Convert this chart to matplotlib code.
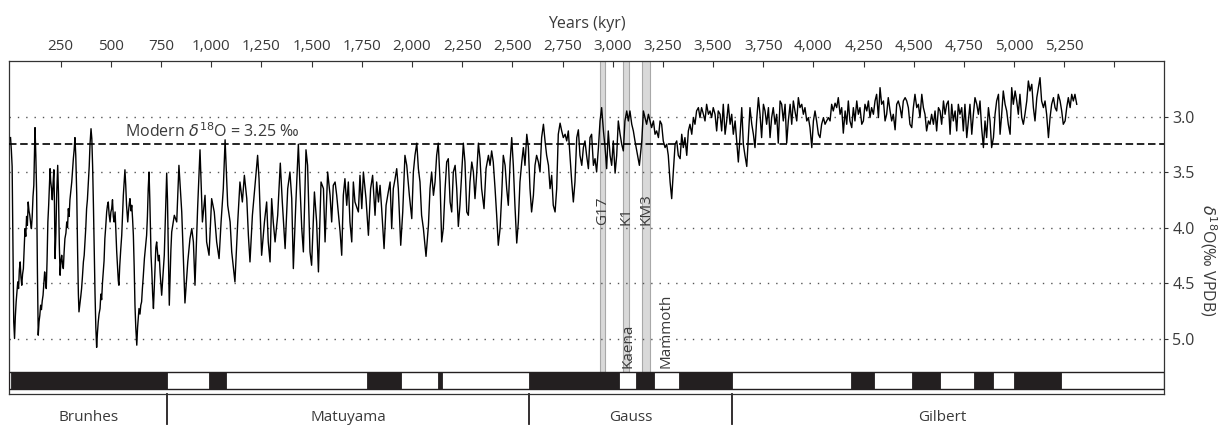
import matplotlib.pyplot as plt
from matplotlib.ticker import FuncFormatter
import matplotlib.transforms as mtransforms
import numpy as np

plt.rcParams['font.family'] = ['Open Sans', 'DejaVu Sans']

# benthic d18O stack: age (kyr), d18O (permil VPDB)
age_brunhes = [0, 4, 8, 12, 16, 20, 24, 28, 32, 36, 40, 44, 48, 52, 56, 60, 64, 68, 72, 76,
               80, 84, 88, 92, 96, 100, 104, 108, 112, 116, 120, 122, 126, 130, 134, 138, 142, 146, 150, 154,
               158, 162, 166, 170, 174, 178, 182, 186, 190, 194, 197, 200, 204, 208, 212, 216, 219, 222, 226, 230,
               235, 239, 243, 247, 251, 255, 259, 263, 267, 271, 276, 280, 284, 288, 292, 296, 300, 305, 309, 313,
               317, 321, 325, 330, 334, 338, 341, 345, 350, 354, 358, 363, 367, 371, 375, 379, 383, 388, 392, 396,
               401, 405, 409, 413, 417, 421, 425, 429, 433, 437, 441, 446, 450, 454, 458, 462, 466, 470, 474, 479,
               483, 487, 491, 496, 500, 504, 508, 512, 516, 521, 525, 529, 533, 537, 540, 544, 549, 554, 558, 562,
               566, 570, 574, 578, 584, 588, 592, 595, 600, 604, 608, 612, 616, 620, 624, 629, 633, 637, 640, 645,
               649, 653, 657, 661, 667, 671, 675, 678, 682, 686, 690, 694, 697, 700, 704, 708, 712, 716, 720, 724,
               728, 732, 736, 741, 745, 749, 753, 757, 761, 766, 770, 774, 778, 782, 786, 791, 795, 799, 803]
d18o_brunhes = [3.19, 3.30, 3.45, 4.20, 4.85, 5.00, 4.80, 4.67, 4.58, 4.49, 4.55, 4.38, 4.31, 4.45, 4.52, 4.42, 4.37, 4.20, 4.01, 4.08,
                3.90, 3.98, 3.77, 3.85, 3.89, 3.96, 4.01, 3.90, 3.72, 3.62, 3.25, 3.10, 3.35, 3.68, 4.40, 4.97, 4.85, 4.79, 4.70, 4.74,
                4.66, 4.61, 4.50, 4.40, 4.47, 4.55, 4.30, 3.95, 3.80, 3.60, 3.47, 3.58, 3.65, 3.75, 3.60, 3.48, 3.80, 4.28, 4.05, 3.70,
                3.44, 3.70, 4.15, 4.43, 4.30, 4.25, 4.33, 4.37, 4.22, 4.10, 4.05, 3.95, 4.00, 3.83, 3.90, 3.75, 3.68, 3.59, 3.48, 3.38,
                3.30, 3.19, 3.35, 3.71, 4.20, 4.60, 4.76, 4.70, 4.62, 4.55, 4.45, 4.31, 4.25, 4.13, 4.00, 3.83, 3.75, 3.59, 3.45, 3.25,
                3.11, 3.20, 3.45, 3.80, 4.20, 4.60, 4.90, 5.08, 4.95, 4.85, 4.78, 4.73, 4.60, 4.65, 4.50, 4.40, 4.30, 4.10, 4.00, 3.86,
                3.80, 3.77, 3.88, 3.95, 3.86, 3.83, 3.75, 3.90, 3.95, 3.86, 4.05, 4.22, 4.35, 4.48, 4.52, 4.35, 4.20, 4.07, 3.90, 3.71,
                3.60, 3.48, 3.62, 3.80, 3.95, 3.85, 3.78, 3.74, 3.85, 3.80, 3.92, 4.07, 4.35, 4.70, 4.90, 5.06, 4.90, 4.80, 4.73, 4.78,
                4.70, 4.67, 4.55, 4.45, 4.28, 4.20, 4.12, 4.07, 3.90, 3.65, 3.50, 3.75, 4.00, 4.25, 4.40, 4.60, 4.73, 4.55, 4.35, 4.18,
                4.13, 4.22, 4.30, 4.25, 4.40, 4.50, 4.61, 4.50, 4.38, 4.25, 4.00, 3.75, 3.51, 3.75, 4.20, 4.70, 4.45, 4.20, 4.04]

age_matuyama = [816, 828, 839, 853, 869,
                883, 894, 903, 911, 919, 932, 944, 956, 969, 977, 989, 1002, 1015, 1027, 1039, 1049, 1060, 1069, 1082, 1094,
                1102, 1118, 1132, 1143, 1155, 1165, 1177, 1185, 1193, 1205, 1218, 1231, 1238, 1251, 1265, 1276, 1284, 1293, 1301, 1309,
                1318, 1331, 1344, 1354, 1368, 1381, 1392, 1401, 1409, 1421, 1434, 1442, 1451, 1459, 1472, 1480, 1492, 1500, 1514, 1525,
                1534, 1547, 1559, 1567, 1580, 1592, 1600, 1608, 1617, 1625, 1642, 1650, 1658, 1666, 1675, 1683, 1691, 1700, 1708, 1716,
                1733, 1741]
d18o_matuyama = [3.89, 3.95, 3.44, 3.86, 4.68,
                 4.31, 4.10, 4.01, 4.13, 4.52, 3.83, 3.30, 3.95, 3.71, 4.13, 4.25, 3.74, 3.86, 4.13, 4.28, 3.95, 3.65, 3.21, 3.80, 3.95,
                 4.22, 4.49, 3.95, 3.59, 3.77, 3.53, 3.74, 4.07, 4.31, 3.89, 3.62, 3.35, 3.56, 4.25, 3.95, 3.77, 4.13, 4.31, 3.74, 3.95,
                 4.13, 3.89, 3.42, 3.77, 4.19, 3.65, 3.50, 3.74, 4.37, 3.80, 3.25, 3.62, 4.01, 4.22, 3.30, 3.44, 4.22, 4.34, 3.68, 3.95,
                 4.40, 3.59, 3.65, 4.13, 3.50, 3.71, 3.95, 3.62, 3.59, 3.71, 4.04, 4.25, 3.71, 3.56, 3.80, 3.59, 3.95, 4.13, 3.59, 3.77,
                 3.86, 3.53]

age_late = [1750, 1758, 1771, 1783, 1794, 1804, 1816, 1824, 1833, 1841, 1849, 1861, 1871, 1882, 1891, 1899, 1907, 1916, 1924, 1932,
            1944, 1954, 1965, 1974, 1987, 1999, 2007, 2015, 2024, 2032, 2040, 2048, 2057, 2070, 2082, 2090, 2098, 2107, 2115, 2123,
            2131, 2140, 2148, 2156, 2165, 2173, 2181, 2190, 2198, 2206, 2215, 2223, 2231, 2239, 2248, 2256, 2264, 2273, 2281, 2289,
            2298, 2306, 2314, 2322, 2331, 2339, 2347, 2359, 2369, 2381, 2389, 2397, 2405, 2414, 2422, 2430, 2439, 2447, 2455, 2464,
            2472, 2480, 2489, 2497, 2505, 2513, 2522, 2530, 2538, 2547, 2555, 2563, 2572, 2580, 2588, 2596, 2605, 2613, 2621, 2630,
            2638, 2646, 2655, 2663, 2671, 2680, 2688, 2696, 2704, 2713, 2721, 2729, 2738, 2746, 2754, 2763, 2771, 2779, 2787, 2796,
            2804, 2812, 2821, 2829, 2837, 2846, 2854, 2862, 2870, 2879, 2887, 2895, 2904, 2912, 2920, 2929, 2937, 2945, 2954, 2962,
            2970, 2978, 2987, 2995, 3003, 3012, 3020, 3028, 3037, 3045, 3053, 3061, 3070, 3078, 3086, 3095, 3103, 3111, 3120, 3133,
            3145, 3153, 3161, 3169, 3178, 3186, 3194, 3203, 3211, 3219, 3228, 3236, 3244, 3252, 3261, 3269, 3277, 3286, 3294, 3302,
            3311, 3319, 3327, 3336, 3344, 3352, 3360, 3369, 3377, 3385, 3394, 3402, 3410, 3418, 3427, 3435, 3443, 3452, 3460, 3468,
            3477, 3485, 3493, 3501, 3510, 3518, 3526]
d18o_late = [3.83, 3.50, 3.74, 4.07, 3.65, 3.53, 3.89, 3.59, 3.77, 3.62, 3.83, 4.19, 3.80, 3.68, 3.59, 4.01, 3.65, 3.56, 3.47, 3.65,
             4.16, 3.86, 3.35, 3.44, 3.71, 3.92, 3.50, 3.35, 3.24, 3.47, 3.59, 3.89, 4.01, 4.26, 3.98, 3.65, 3.50, 3.71, 3.59, 3.35,
             3.24, 3.59, 4.13, 4.01, 3.65, 3.41, 3.38, 3.77, 3.86, 3.50, 3.44, 3.65, 3.99, 3.80, 3.50, 3.24, 3.41, 3.86, 3.89, 3.59,
             3.41, 3.50, 3.74, 3.53, 3.24, 3.38, 3.65, 3.83, 3.47, 3.35, 3.44, 3.31, 3.41, 3.65, 3.89, 4.16, 4.01, 3.71, 3.35, 3.44,
             3.65, 3.80, 3.41, 3.19, 3.44, 3.80, 4.14, 3.95, 3.59, 3.41, 3.28, 3.44, 3.16, 3.28, 3.65, 3.86, 3.71, 3.44, 3.35, 3.41,
             3.50, 3.19, 3.07, 3.22, 3.35, 3.44, 3.65, 3.53, 3.80, 3.86, 3.65, 3.16, 3.06, 3.13, 3.19, 3.16, 3.22, 3.13, 3.35, 3.59,
             3.77, 3.59, 3.19, 3.12, 3.35, 3.44, 3.28, 3.22, 3.35, 3.47, 3.19, 3.16, 3.44, 3.38, 3.50, 3.28, 3.04, 2.92, 3.13, 3.28,
             3.47, 3.13, 3.35, 3.44, 3.22, 3.51, 3.35, 3.04, 3.16, 3.25, 3.31, 3.04, 2.95, 3.04, 2.95, 3.07, 3.13, 3.22, 3.31, 3.44,
             3.22, 2.95, 3.01, 3.07, 2.98, 3.04, 3.10, 3.04, 3.16, 3.13, 3.19, 3.04, 3.07, 3.22, 3.28, 3.25, 3.35, 3.59, 3.74, 3.50,
             3.25, 3.22, 3.35, 3.38, 3.16, 3.28, 3.19, 3.35, 3.13, 3.07, 3.16, 3.01, 3.07, 2.95, 2.92, 3.01, 2.92, 2.98, 3.04, 2.89,
             2.98, 2.95, 3.01, 2.92, 2.98, 3.13, 2.95]

age_plio = [3535, 3543, 3551, 3560, 3568, 3576, 3585, 3593, 3601, 3610, 3618, 3626, 3634, 3643, 3651, 3659, 3668, 3676, 3684, 3693,
            3701, 3709, 3717, 3726, 3734, 3742, 3751, 3759, 3767, 3776, 3784, 3792, 3800, 3809, 3817, 3825, 3834, 3842, 3850, 3859,
            3867, 3875, 3884, 3892, 3900, 3908, 3917, 3925, 3933, 3942, 3950, 3958, 3967, 3975, 3983, 3992, 4000, 4008, 4016, 4025,
            4033, 4041, 4050, 4058, 4066, 4075, 4083, 4091, 4099, 4108, 4116, 4124, 4133, 4141, 4149, 4158, 4166, 4174, 4182, 4191,
            4199, 4207, 4216, 4224, 4232, 4241, 4249, 4257, 4266, 4274, 4282, 4290, 4299, 4307, 4315, 4324, 4332, 4340, 4349, 4357,
            4365, 4373, 4382, 4390, 4398, 4407, 4415, 4423, 4432, 4440, 4448, 4457, 4465, 4473, 4481, 4490, 4498, 4506, 4515, 4523,
            4531, 4540, 4548, 4556, 4564, 4573, 4581, 4589, 4598, 4606, 4614, 4623, 4631, 4639, 4648, 4656, 4664, 4672, 4681, 4689,
            4697, 4706, 4714, 4722, 4730, 4739, 4747, 4755, 4764, 4772, 4780, 4789, 4797, 4805, 4814, 4822, 4830, 4838, 4847, 4855,
            4863, 4872, 4880, 4888, 4897, 4905, 4913, 4922, 4930, 4938, 4946, 4955, 4963, 4971, 4980, 4988, 4996, 5005, 5013, 5021,
            5029, 5038, 5046, 5054, 5063, 5071, 5079, 5088, 5096, 5104, 5113, 5121, 5129, 5137, 5146, 5154, 5162, 5171, 5179, 5187,
            5196, 5204, 5212, 5220, 5229, 5237, 5245, 5254, 5262, 5270, 5279, 5287, 5295, 5303, 5312]
d18o_plio = [2.98, 3.13, 2.89, 3.16, 3.04, 2.89, 3.07, 2.98, 3.16, 3.04, 3.22, 3.41, 3.19, 2.92, 3.25, 3.35, 3.45, 3.19, 2.92, 3.07,
             3.16, 3.28, 3.04, 2.83, 2.98, 3.19, 2.89, 2.95, 3.07, 2.92, 3.19, 3.01, 2.92, 3.07, 2.98, 3.24, 2.86, 2.89, 3.04, 2.89,
             3.24, 3.04, 2.89, 3.07, 2.86, 2.95, 3.04, 2.83, 2.92, 2.89, 2.98, 2.92, 3.04, 3.01, 3.10, 3.28, 3.04, 2.95, 3.04, 3.16,
             3.19, 3.07, 3.01, 3.07, 3.04, 3.01, 3.04, 2.89, 2.95, 2.88, 2.92, 2.83, 2.98, 2.92, 3.15, 2.95, 3.07, 2.86, 3.04, 3.10,
             2.92, 3.04, 2.86, 2.98, 2.92, 3.07, 3.04, 2.89, 2.95, 2.86, 3.01, 2.92, 2.98, 2.86, 2.80, 3.01, 2.74, 2.89, 2.86, 3.04,
             2.98, 2.83, 2.95, 3.04, 2.98, 3.12, 2.89, 2.86, 2.92, 3.01, 2.86, 2.83, 2.86, 2.92, 3.07, 3.10, 2.92, 2.80, 2.92, 2.89,
             3.01, 2.80, 2.92, 2.98, 3.13, 3.04, 3.07, 2.98, 3.07, 2.95, 3.13, 2.92, 2.95, 3.07, 2.86, 2.98, 2.89, 2.86, 3.16, 2.89,
             3.04, 2.95, 3.13, 2.89, 2.98, 2.92, 3.13, 2.89, 3.19, 3.04, 2.89, 3.16, 2.98, 2.83, 2.89, 2.98, 2.86, 3.10, 3.28, 3.04,
             3.19, 2.92, 3.04, 3.28, 3.19, 2.98, 2.86, 2.80, 3.16, 2.98, 2.77, 2.89, 2.95, 3.07, 3.16, 2.74, 2.89, 2.77, 2.86, 2.98,
             2.80, 3.01, 3.07, 2.98, 2.86, 2.68, 2.77, 2.71, 2.92, 3.04, 2.83, 2.74, 2.65, 2.86, 2.92, 2.86, 2.98, 3.19, 3.01, 2.89,
             2.83, 2.92, 2.95, 2.80, 2.86, 2.95, 3.07, 3.04, 2.92, 2.83, 2.92, 2.80, 2.86, 2.80, 2.89]

# geomagnetic polarity: normal intervals (kyr)
normal_start = [0, 988, 1778, 2128, 2581, 3116, 3330, 4187, 4493, 4799, 4997]
normal_end = [781, 1072, 1945, 2148, 3032, 3207, 3596, 4300, 4631, 4896, 5235]

epochs = ['Brunhes', 'Matuyama', 'Gauss', 'Gilbert']
epoch_bounds = [781, 2581, 3596]
epoch_centres = [390, 1681, 3088, 4640]

mis_names = ['G17', 'K1', 'KM3']
mis_start = [2937, 3053, 3148]
mis_end = [2962, 3083, 3185]

subchrons = ['Kaena', 'Mammoth']
subchron_mid = [3074, 3268]

modern = 3.25
xmin, xmax = -6, 5747

txt = '#3a3a3a'

fig = plt.figure(figsize=(12.27, 4.26), dpi=100)
ax = fig.add_axes([0.0076, 0.0751, 0.9411, 0.7817])

age = np.array(age_brunhes + age_matuyama + age_late + age_plio)
d18o = np.array(d18o_brunhes + d18o_matuyama + d18o_late + d18o_plio)

bar_top, bar_bot = 0.067, 0.014

for name, s, e in zip(mis_names, mis_start, mis_end):
    ax.axvspan(s, e, ymin=bar_top, ymax=1, facecolor='#d9d9d9', edgecolor='#a8a8a8', lw=0.8, zorder=1)
    ax.text((s + e) / 2, 3.98, name, rotation=90, ha='center', va='bottom', fontsize=11, color=txt, zorder=4)

for v in [3.0, 3.5, 4.0, 4.5, 5.0]:
    ax.axhline(v, color='#555555', lw=1.0, ls=(0, (1, 5)), zorder=2)

ax.plot(age, d18o, color='black', lw=1.0, zorder=3)
ax.axhline(modern, color='black', lw=1.2, ls=(0, (4.5, 2.2)), zorder=4)
ax.text(570, 3.22, 'Modern $\\delta^{18}$O = 3.25 ‰', fontsize=11.5, color=txt, va='bottom', ha='left', zorder=5)

# polarity bar
trans = mtransforms.blended_transform_factory(ax.transData, ax.transAxes)
ax.add_patch(plt.Rectangle((xmin, bar_bot), xmax - xmin, bar_top - bar_bot, transform=trans,
                           facecolor='white', edgecolor='#231f20', lw=1.0, zorder=5))
for s, e in zip(normal_start, normal_end):
    ax.add_patch(plt.Rectangle((s, bar_bot), e - s, bar_top - bar_bot, transform=trans,
                               facecolor='#231f20', edgecolor='#231f20', lw=0.6, zorder=6))
for name, m in zip(subchrons, subchron_mid):
    ax.text(m, bar_top + 0.01, name, rotation=90, ha='center', va='bottom', fontsize=11,
            color=txt, transform=trans, zorder=6)

# epochs under the axes
for b in epoch_bounds:
    ax.plot([b, b], [0, -0.09], color='#231f20', lw=1.3, transform=trans, clip_on=False)
for name, c in zip(epochs, epoch_centres):
    ax.text(c, -0.072, name, ha='center', va='center', fontsize=11, color=txt, transform=trans)

ax.set_xlim(xmin, xmax)
ax.set_ylim(5.5, 2.5)

xt = np.arange(250, 5501, 250)
ax.set_xticks(xt)
ax.xaxis.set_major_formatter(FuncFormatter(lambda v, p: '' if v > 5300 else f'{int(v):,}'))
ax.xaxis.tick_top()
ax.xaxis.set_label_position('top')
ax.set_xlabel('Years (kyr)', fontsize=11.5, color=txt, labelpad=8)
ax.tick_params(axis='x', direction='in', length=4, width=0.8, pad=5, labelsize=11, labelcolor=txt, color='#333333')

ax.set_yticks([3.0, 3.5, 4.0, 4.5, 5.0])
ax.yaxis.set_major_formatter(FuncFormatter(lambda v, p: f'{v:.1f}'))
ax.yaxis.tick_right()
ax.tick_params(axis='y', direction='out', length=3, width=0.8, pad=3, labelsize=11.5, labelcolor=txt, color='#333333')
ax.yaxis.set_label_position('right')
ax.set_ylabel('$\\delta^{18}$O(‰ VPDB)', rotation=270, fontsize=11.5, color=txt)
ax.yaxis.set_label_coords(1.047, 0.40)

for sp in ax.spines.values():
    sp.set_color('#333333')
    sp.set_linewidth(0.9)

fig.savefig('out.png', dpi=100)
